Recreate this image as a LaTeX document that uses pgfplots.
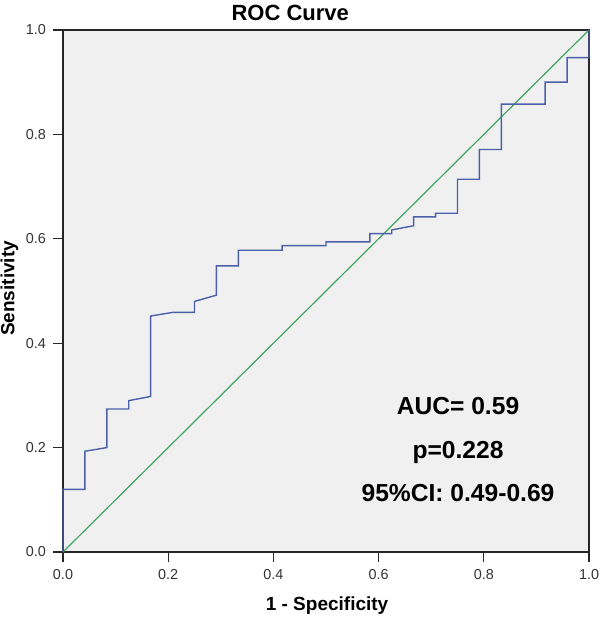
\documentclass[border=0pt]{standalone}
\usepackage{pgfplots}
\pgfplotsset{compat=1.18}
\usepackage{fontspec}
\setmainfont{Liberation Sans}
\definecolor{bgc}{RGB}{240,240,240}
\definecolor{roc}{RGB}{76,96,170}
\definecolor{refl}{RGB}{64,166,96}
\begin{document}
\begin{tikzpicture}
\begin{axis}[
  scale only axis, width=263pt, height=261pt,
  xmin=0, xmax=1, ymin=0, ymax=1,
  axis background/.style={fill=bgc},
  xtick={0,0.2,0.4,0.6,0.8,1.0}, ytick={0,0.2,0.4,0.6,0.8,1.0},
  tick align=outside, xtick pos=bottom, ytick pos=left,
  major tick length=5pt,
  tick style={black!85, line width=0.6pt},
  axis line style={black!85, line width=0.8pt},
  ticklabel style={font=\fontsize{7.2}{8}\selectfont, text=black!80},
  /pgf/number format/fixed, /pgf/number format/fixed zerofill,
  /pgf/number format/precision=1, /pgf/number format/assume math mode=true,
  clip=false,
]
\addplot[refl, line width=0.6pt] coordinates {(0,0) (1,1)};
\addplot[roc, line width=0.7pt] coordinates {
(0,0) (0,0.120) (0.0417,0.120) (0.0417,0.193) (0.0833,0.200) (0.0833,0.274)
(0.125,0.274) (0.125,0.290) (0.1667,0.298) (0.1667,0.452) (0.2083,0.459)
(0.25,0.459) (0.25,0.480) (0.2917,0.492) (0.2917,0.548) (0.3333,0.548)
(0.3333,0.578) (0.4167,0.578) (0.4167,0.587) (0.5,0.587) (0.5,0.594)
(0.5833,0.594) (0.5833,0.610) (0.625,0.610) (0.625,0.617) (0.6667,0.625)
(0.6667,0.642) (0.7083,0.642) (0.7083,0.649) (0.75,0.649) (0.75,0.714)
(0.7917,0.714) (0.7917,0.771) (0.8333,0.771) (0.8333,0.858) (0.9167,0.858)
(0.9167,0.900) (0.9583,0.900) (0.9583,0.947) (1,0.947) (1,1)};
\node[anchor=base, font=\fontsize{12.3}{14}\selectfont\bfseries] at (axis cs:0.751,0.264) {AUC= 0.59};
\node[anchor=base, font=\fontsize{12.3}{14}\selectfont\bfseries] at (axis cs:0.751,0.180) {p=0.228};
\node[anchor=base, font=\fontsize{12.3}{14}\selectfont\bfseries] at (axis cs:0.751,0.0958) {95\%CI: 0.49-0.69};
\node[anchor=base, font=\fontsize{11}{13}\selectfont\bfseries] at (rel axis cs:0.432,1) [yshift=4.5pt] {ROC Curve};
\node[anchor=base, font=\fontsize{9.5}{11}\selectfont\bfseries] at (rel axis cs:0.502,0) [yshift=-29pt] {1 - Specificity};
\node[rotate=90, font=\fontsize{9.5}{11}\selectfont\bfseries] at (rel axis cs:-0.102,0.505) {Sensitivity};
\end{axis}
\pgfresetboundingbox
\path[use as bounding box] ([shift={(-31.5pt,-33.5pt)}]current axis.south west) rectangle ([shift={(5.5pt,15pt)}]current axis.north east);
\end{tikzpicture}
\end{document}
